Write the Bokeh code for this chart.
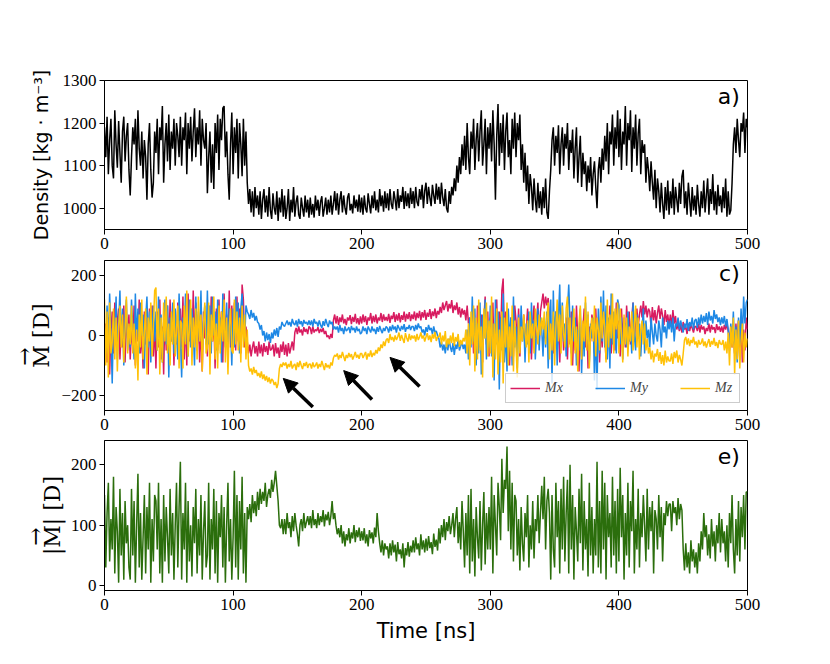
import numpy as np
from bokeh.plotting import figure
from bokeh.layouts import column
from bokeh.models import Range1d, Label, Arrow, NormalHead, FixedTicker
from bokeh.embed import file_html
from bokeh.resources import INLINE

# ---- data (one value per ns, 0..500 ns) ----
density = [
    1190,1120,1215,1080,1160,1210,1100,1070,1230,1150,1095,1205,1130,1060,1180,1215,1110,1170,1200,1090,
    1030,1120,1190,1150,1210,1090,1230,1140,1100,1180,1070,1160,1120,1020,1150,1200,1090,1025,1060,1180,
    1130,1210,1080,1190,1160,1240,1060,1150,1200,1110,1220,1090,1180,1140,1210,1100,1200,1170,1120,1215,
    1100,1190,1160,1225,1080,1200,1140,1215,1110,1180,1235,1120,1190,1150,1230,1100,1210,1160,1140,1200,
    1035,1120,1180,1060,1150,1045,1200,1130,1220,1090,1210,1160,1235,1240,1120,1180,1080,1020,1150,1225,
    1080,1190,1130,1210,1070,1200,1150,1075,1210,1100,1180,1060,1010,1045,990,1040,980,1050,1000,1030,
    985,1040,975,1020,1045,990,1030,980,1050,995,975,1035,1000,985,1040,970,1025,990,1045,980,
    1030,975,1000,1045,970,1020,990,1050,980,1015,1030,985,975,1025,1000,980,1030,990,1020,978,
    1025,985,1010,978,1030,995,1020,982,1015,1028,980,1000,1025,985,1020,990,1030,985,1010,1040,
    995,1035,985,1020,1040,990,1030,1000,985,1025,1035,995,1010,988,1030,1000,1020,992,1032,990,
    1025,985,1030,1000,990,1035,1010,988,1030,1000,1040,995,1020,990,1045,1005,1030,992,1040,1000,
    1035,995,1045,1010,998,1040,1020,995,1045,1000,1030,1015,1050,998,1040,1005,1035,1000,1048,1010,
    1040,1000,1050,1015,1005,1045,1020,1055,1000,1040,1060,1010,1050,1025,1005,1055,1030,1010,1058,1020,
    1050,1010,1060,1025,1005,1045,1000,990,1040,1010,1050,1030,1070,1040,1100,1060,1120,1080,1150,1100,
    1170,1090,1200,1120,1080,1180,1140,1210,1090,1160,1200,1110,1180,1230,1100,1150,1210,1080,1190,1140,
    1200,1110,1230,1150,1020,1170,1245,1100,1200,1130,1220,1090,1180,1225,1120,1160,1080,1210,1140,1225,
    1120,1200,1160,1220,1090,1150,1060,1130,1040,1100,1010,1080,1050,995,1070,1020,990,1060,1000,1040,
    985,1050,1000,1070,990,975,1040,1090,1160,1190,1100,1170,1130,1195,1080,1150,1190,1100,1175,1140,
    1200,1090,1160,1130,1185,1070,1140,1190,1060,1120,1170,1050,1130,1080,1110,1040,1100,1060,1120,1030,
    1080,1110,1050,1000,1090,1120,1060,1140,1090,1170,1110,1200,1080,1180,1150,1220,1100,1190,1140,1230,
    1120,1210,1090,1180,1150,1240,1100,1200,1160,1230,1085,1190,1140,1220,1100,1175,1210,1080,1160,1130,
    1150,1060,1120,1090,1040,1110,1060,1020,1090,1000,1070,1040,990,1060,1010,975,1050,995,1065,985,
    1040,1000,1070,985,1050,1020,990,1060,1010,1075,1090,1000,1040,985,1060,1020,980,1050,995,1030,
    985,1055,1010,980,1040,1000,1065,990,1030,1070,985,1045,1010,1080,995,1040,985,1055,1005,1030,
    990,1050,1000,1070,980,1040,985,995,1060,1150,1190,1130,1210,1160,1120,1200,1180,1225,1130,1210,
    1190,
]

m_x = [
    -20,40,-90,60,-130,10,80,-60,110,-30,50,90,-80,20,-40,100,-90,60,-10,70,
    -80,30,-40,100,-100,50,-20,120,-60,10,-110,80,-30,60,-130,90,-50,100,-70,30,
    -110,80,-40,120,-80,30,-130,90,-50,100,-70,120,-20,80,-100,60,-30,110,-60,90,
    -40,130,-80,60,-100,140,-20,90,-60,150,-30,110,-50,70,-90,40,-120,80,-10,60,
    -70,100,-40,130,-20,60,-110,90,-50,120,-30,80,-90,140,-10,70,-60,150,-40,100,
    -30,110,-50,130,-20,90,-60,170,120,-40,30,-20,-60,-30,-70,-40,-20,-60,-35,-70,
    -20,-60,-30,-70,-25,-55,-35,-65,-20,-50,-45,-30,-70,-25,-60,-40,-75,-30,-55,-20,
    -65,-30,-70,-25,-60,-40,-20,-50,10,25,5,30,10,20,0,28,12,22,5,30,
    25,5,30,10,20,15,28,8,22,12,25,5,15,-5,0,-12,5,-8,50,70,
    40,65,35,60,45,70,40,55,35,60,50,68,38,62,45,72,40,58,36,64,
    40,70,45,65,35,60,50,75,40,65,45,70,40,60,50,75,45,70,50,62,
    48,72,42,66,55,78,45,70,50,75,44,68,52,80,46,72,55,78,48,70,
    55,80,50,75,58,82,50,78,60,85,52,76,62,88,55,80,65,90,58,82,
    70,95,75,110,85,100,115,80,105,90,118,75,100,85,110,70,95,60,90,70,
    85,50,100,40,60,-20,40,-60,20,-80,100,10,-40,70,-90,50,130,-30,80,-70,
    60,-40,110,-90,20,120,-60,80,-20,150,190,-20,80,-60,30,-100,60,10,-70,100,
    50,-30,90,-70,40,0,70,-40,20,90,-20,60,-80,40,100,-10,50,110,-30,80,
    110,140,90,130,100,125,60,-20,40,-60,20,80,-40,50,-90,30,70,-50,10,60,
    -80,60,-30,80,-100,30,-50,100,-10,-120,60,-70,20,90,-40,50,-110,30,-20,70,
    40,-60,90,-20,60,-90,30,-40,80,0,-80,50,-30,100,-60,20,70,-50,110,-10,
    50,-70,90,-10,60,-40,100,20,80,-30,60,110,-20,50,90,30,70,100,60,115,
    70,100,60,90,80,30,95,50,85,40,75,100,55,90,65,35,85,45,70,30,
    70,30,85,40,65,20,40,15,35,10,45,20,30,5,40,15,35,25,10,30,
    30,15,40,10,35,20,30,5,25,15,40,10,35,20,28,8,38,18,30,12,
    30,10,35,20,40,15,-20,30,-40,20,-60,40,-20,50,-80,30,-90,20,-50,60,
    20,
]

m_y = [
    20,-60,100,-40,140,10,-160,60,-20,130,-80,40,150,-30,90,-100,60,120,-50,30,
    -40,120,20,-80,140,-20,90,-60,110,0,70,-110,50,130,-40,80,-90,30,100,-20,
    80,-50,130,-10,70,-90,40,120,-30,100,-140,60,-20,110,-60,90,10,-80,140,-10,
    -140,60,-20,140,10,-70,120,-40,90,20,-100,130,-50,80,-20,150,-60,40,100,-30,
    150,-30,100,-60,130,0,80,-50,120,-20,60,-90,140,10,-40,110,-70,90,30,-100,
    90,-40,130,20,110,-60,90,140,40,-20,100,80,70,55,85,60,75,50,65,45,
    40,20,35,0,15,-20,10,-15,5,-25,10,-10,20,0,25,-5,30,20,45,35,
    30,40,50,35,45,30,55,40,35,50,30,55,38,48,30,52,40,45,35,50,
    35,50,30,55,40,45,30,50,35,25,48,32,55,40,28,50,38,45,20,30,
    20,30,10,35,15,25,5,30,15,20,28,8,32,18,25,10,30,15,22,5,
    10,30,15,25,5,30,20,10,30,15,22,5,28,12,32,18,8,25,15,30,
    25,10,30,15,35,20,30,10,35,25,15,32,20,38,12,28,22,35,18,30,
    30,15,35,20,40,25,30,10,20,0,28,12,35,18,25,5,30,10,15,0,
    -10,-40,-20,-50,-30,-60,-20,-50,-10,-40,-55,-25,-65,-30,-45,-15,-50,-35,-20,-45,
    -30,-60,20,-80,60,-40,130,-20,90,-100,40,-60,110,-130,70,-10,120,-80,50,-40,
    100,-70,40,-150,120,-30,80,-180,60,-50,140,-90,20,-120,90,-20,60,-100,130,-40,
    30,-110,70,-40,100,-20,60,-90,40,-30,80,-60,110,-10,50,-80,20,90,-50,60,
    20,-70,60,-40,80,-110,40,120,-160,150,-30,80,-100,60,170,-40,110,-20,40,-70,
    80,170,40,-60,100,-20,60,-100,20,-50,90,-130,30,-70,110,-30,70,-90,40,-10,
    60,-150,40,-180,90,-60,130,-20,150,-40,100,-80,60,-110,140,-30,80,10,-60,120,
    100,-30,60,-80,20,40,-40,80,-20,30,-60,110,0,-50,70,-10,40,-70,20,90,
    -60,50,-10,20,-40,60,10,-30,40,0,-20,50,20,-40,60,10,30,-10,50,20,
    50,10,60,-20,40,30,60,20,50,30,10,40,25,55,15,45,30,60,20,50,
    55,25,60,35,70,40,65,45,75,35,80,50,65,40,85,55,70,45,60,35,
    60,40,65,30,55,20,-50,40,-20,80,-60,30,-90,60,-30,90,-10,130,40,110,
    120,
]

m_z = [
    120,-100,80,-140,110,-60,-20,90,-80,60,-120,30,100,-40,70,-90,20,130,-60,40,
    -30,100,-60,40,-110,20,-150,70,-40,120,-80,10,90,-130,60,-20,110,-70,30,150,
    160,-50,90,-130,60,-90,110,-20,130,-60,40,-100,80,-30,120,-70,20,100,-110,50,
    40,-110,100,-30,150,-70,20,120,-100,60,-40,90,-80,130,-20,70,-120,40,110,-60,
    -40,110,-130,70,-20,130,-80,40,-110,100,-60,80,-20,120,-90,60,-130,30,90,-50,
    -60,120,-30,80,-50,60,-90,100,-40,70,-80,20,-100,-120,-110,-130,-105,-125,-115,-135,
    -125,-140,-120,-145,-130,-150,-135,-155,-140,-160,-145,-150,-165,-155,-175,-160,-110,-95,-105,-90,
    -100,-90,-110,-95,-105,-85,-110,-100,-95,-115,-90,-105,-85,-100,-112,-92,-102,-88,-108,-96,
    -95,-110,-90,-105,-100,-90,-110,-95,-105,-85,-100,-115,-92,-106,-98,-110,-90,-100,-75,-65,
    -70,-60,-80,-65,-75,-55,-70,-85,-65,-75,-58,-72,-62,-80,-68,-55,-74,-64,-78,-60,
    -60,-75,-65,-55,-80,-60,-70,-50,-72,-58,-66,-48,-60,-40,-52,-30,-42,-20,-35,-15,
    -10,-25,5,-15,-5,-20,0,-15,-5,10,-18,2,-12,-25,8,-8,-20,5,-15,0,
    -10,0,-20,5,-15,-5,10,-10,0,-20,-5,8,-15,0,-22,5,-10,12,-18,-5,
    -5,10,-30,0,-20,15,-40,-10,-30,0,-25,10,-35,-5,-20,5,-38,-15,-30,-8,
    -20,20,-60,40,-100,80,-30,100,-120,60,-80,120,-50,30,-140,90,-10,110,-70,50,
    -60,130,-140,40,-80,90,-130,20,-90,80,-160,60,-40,110,-100,30,-70,100,-120,50,
    -40,-140,60,-60,30,-20,70,10,-40,50,-90,80,-10,40,-60,90,20,-30,70,0,
    60,20,80,-30,60,110,-80,40,-50,80,-100,30,120,-20,70,-60,100,10,-40,90,
    130,-40,60,-100,20,90,-60,30,-120,40,100,-80,50,-20,130,-50,80,-110,10,60,
    -20,100,-70,60,20,-50,110,-10,80,30,-90,120,-40,70,-10,140,-60,90,20,110,
    -60,90,0,-90,70,-30,60,-70,30,-20,80,-50,40,100,-40,60,-80,20,50,-30,
    40,-50,-10,-60,-40,-80,-50,-90,-60,-70,-45,-85,-55,-95,-65,-100,-50,-90,-70,-85,
    -85,-60,-95,-55,-75,-50,-90,-65,-80,-100,-60,-15,-5,-30,-10,-35,-15,-25,-5,-30,
    -20,-40,-15,-30,-25,-10,-35,-20,-40,-25,-12,-38,-18,-30,-8,-35,-22,-42,-15,-28,
    -30,-15,-50,-20,-60,10,-100,30,-40,60,-130,20,-80,50,-110,-20,40,-90,10,-40,
    -10,
]

m_abs = [
    150,30,120,170,40,110,60,180,20,130,90,5,160,50,120,10,140,70,100,30,
    10,160,50,140,5,100,185,30,120,10,80,150,20,130,60,170,5,110,40,150,
    140,60,170,20,110,5,150,40,130,80,20,160,50,120,10,100,170,30,130,205,
    10,120,60,170,5,140,40,100,15,130,70,160,20,110,50,150,10,90,140,30,
    50,170,10,110,60,160,20,140,5,120,80,150,30,130,5,100,170,40,110,10,
    80,190,30,150,10,140,60,180,20,120,5,130,110,135,105,150,120,140,115,155,
    125,160,135,155,140,170,130,150,160,145,175,155,170,190,165,140,100,95,110,85,
    110,85,120,95,105,80,115,90,120,100,85,65,100,110,90,120,95,105,115,100,
    115,95,125,100,110,95,120,100,115,105,125,98,118,108,122,100,115,140,110,120,
    100,85,95,80,100,70,90,65,85,75,95,70,88,78,100,72,92,80,96,74,
    90,75,95,70,85,65,92,78,88,70,96,80,120,90,70,55,75,50,70,60,
    65,45,70,50,75,55,68,40,72,52,60,45,70,30,62,50,72,48,66,55,
    75,55,80,60,70,50,85,60,75,55,78,58,82,62,72,52,86,64,76,58,
    95,70,100,80,110,75,105,90,115,85,100,120,80,110,130,70,105,60,140,90,
    30,120,50,150,20,160,40,110,15,130,80,45,140,25,100,155,35,120,60,130,
    60,180,20,150,100,50,170,130,75,210,120,175,160,230,90,190,60,170,40,150,
    140,50,110,25,130,70,40,120,80,150,30,100,60,140,45,110,90,150,70,120,
    165,110,180,60,140,160,120,10,150,60,30,170,80,140,20,160,60,180,40,120,
    175,20,200,60,150,10,130,90,40,160,70,185,25,140,60,110,15,170,50,130,
    20,110,50,205,30,140,20,190,60,170,10,150,80,120,30,180,50,140,20,160,
    40,195,80,150,10,120,50,170,30,140,90,190,20,110,60,160,30,120,80,150,
    100,40,160,60,130,90,140,20,125,110,60,150,80,130,40,120,100,140,115,135,
    135,90,140,120,130,100,145,110,135,125,60,25,70,30,55,20,75,40,60,30,
    55,20,70,40,90,60,120,80,100,50,85,45,110,65,90,40,100,70,120,55,
    110,70,90,40,100,30,120,70,150,60,20,110,50,140,40,130,80,150,60,155,
    155,
]

x_ticks = [0, 100, 200, 300, 400, 500]
density_ticks = [1000, 1100, 1200, 1300]
m_ticks = [-200, 0, 200]
abs_ticks = [0, 100, 200]
series_labels = ["Mx", "My", "Mz"]
series_colors = ["#d81b60", "#1e88e5", "#ffc107"]

# arrows in panel c (tail -> head), data units
arrow_t0 = [162, 208, 245]
arrow_m0 = [-238, -213, -170]
arrow_t1 = [139, 186, 222]
arrow_m1 = [-143, -117, -73]

SERIF = "Liberation Serif"
LABEL_SERIF = "DejaVu Serif"
SANS = "DejaVu Sans"
NB = "\u00a0"


def tgrid(values):
    return np.arange(len(values))


def style(p, yticks, overrides=None):
    p.xaxis.ticker = FixedTicker(ticks=x_ticks)
    p.yaxis.ticker = FixedTicker(ticks=yticks)
    for ax in (p.xaxis[0], p.yaxis[0]):
        ax.major_label_text_font = SERIF
        ax.major_label_text_font_size = "17px"
        ax.major_label_text_color = "black"
        ax.major_tick_in = 0
        ax.major_tick_out = 5
        ax.minor_tick_line_color = None
        ax.axis_line_color = "black"
        ax.major_tick_line_color = "black"
        ax.major_label_standoff = 3
        ax.axis_label_text_font_style = "normal"
        ax.axis_label_text_color = "black"
    if overrides:
        p.yaxis.major_label_overrides = overrides
    p.grid.visible = False
    p.outline_line_color = "black"
    p.outline_line_width = 1
    p.background_fill_color = "white"
    p.border_fill_color = "white"


def panel_label(p, x, y, txt):
    p.add_layout(Label(x=x, y=y, text=txt, text_align="right", text_baseline="middle",
                       text_font=SANS, text_font_size="22px", text_color="black"))


x_range = Range1d(0, 500)
common = dict(frame_width=643, output_backend="svg", toolbar_location=None,
              x_range=x_range, min_border_left=104, min_border_right=60)

# ---- panel a ----
pa = figure(frame_height=149, y_range=Range1d(950, 1300),
            min_border_top=80, min_border_bottom=27, **common)
pa.line(tgrid(density), density, color="black", line_width=1.5)
style(pa, density_ticks)
pa.yaxis.axis_label = "Density [kg · m⁻³]"
pa.yaxis.axis_label_text_font = SANS
pa.yaxis.axis_label_text_font_size = "19px"
pa.yaxis.axis_label_standoff = 8
panel_label(pa, 494, 1262, "a)")

# ---- panel c ----
pc = figure(frame_height=150, y_range=Range1d(-250, 250),
            min_border_top=4, min_border_bottom=26, **common)
for ys, lab, col in zip([m_x, m_y, m_z], series_labels, series_colors):
    pc.line(tgrid(ys), ys, color=col, line_width=1.5, legend_label=lab)
style(pc, m_ticks, {-200: "−200"})
# y label "M⃗ [D]": vector arrow on a line above the M
pc.yaxis.axis_label = "→" + NB * 6 + "\nM [D]"
pc.yaxis.axis_label_text_font = LABEL_SERIF
pc.yaxis.axis_label_text_font_size = "22px"
pc.yaxis.axis_label_text_line_height = 0.7
pc.yaxis.axis_label_standoff = 4
for t0, m0, t1, m1 in zip(arrow_t0, arrow_m0, arrow_t1, arrow_m1):
    pc.add_layout(Arrow(end=NormalHead(size=14, fill_color="black", line_color="black"),
                        x_start=t0, y_start=m0, x_end=t1, y_end=m1,
                        line_color="black", line_width=3.5))
panel_label(pc, 494, 208, "c)")
lg = pc.legend[0]
lg.location = "bottom_right"
lg.orientation = "horizontal"
lg.margin = 7
lg.padding = 4
lg.spacing = 30
lg.glyph_width = 30
lg.label_text_font = SERIF
lg.label_text_font_style = "italic"
lg.label_text_font_size = "14px"
lg.background_fill_alpha = 0.8
lg.border_line_color = "#cccccc"
lg.border_line_alpha = 1.0

# ---- panel e ----
pe = figure(frame_height=150, y_range=Range1d(-8, 240),
            min_border_top=4, min_border_bottom=55, **common)
pe.line(tgrid(m_abs), m_abs, color="#2b6e0c", line_width=1.5)
style(pe, abs_ticks)
pe.yaxis.axis_label = NB + "→" + NB * 7 + "\n|M| [D]"
pe.yaxis.axis_label_text_font = LABEL_SERIF
pe.yaxis.axis_label_text_font_size = "22px"
pe.yaxis.axis_label_text_line_height = 0.7
pe.yaxis.axis_label_standoff = 3
pe.xaxis.axis_label = "Time [ns]"
pe.xaxis.axis_label_text_font = SANS
pe.xaxis.axis_label_text_font_size = "21px"
pe.xaxis.axis_label_standoff = 6
panel_label(pe, 494, 213, "e)")

layout = column(pa, pc, pe, spacing=0)
open("out.html", "w").write(file_html(layout, INLINE))
